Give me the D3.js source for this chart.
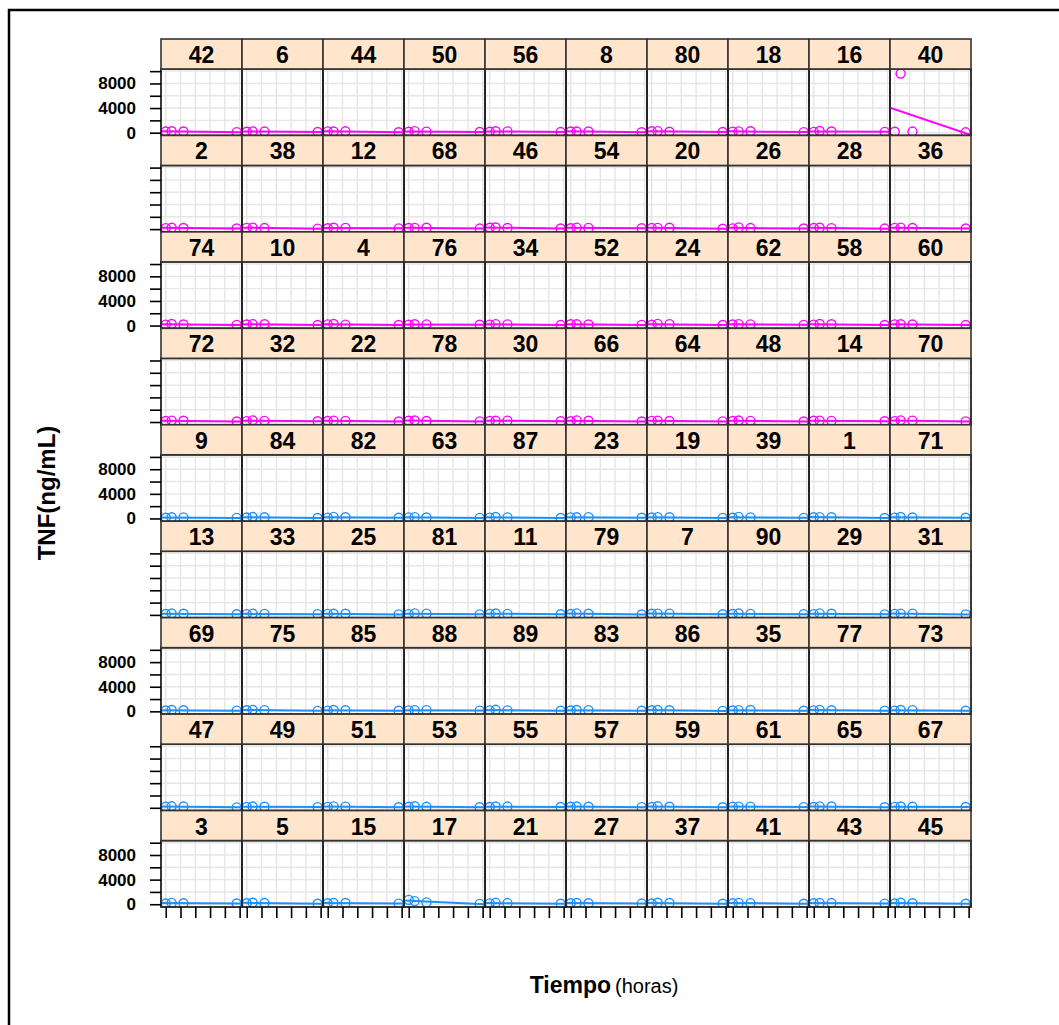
<!DOCTYPE html>
<html>
<head>
  <meta http-equiv="content-type" content="text/html; charset=utf-8">
  <title>TNF por paciente</title>
  <style>
    body { margin: 0; background: #fff; }
    svg { display: block; font-family: "Liberation Sans", Arial, sans-serif; }
    .strip_label { font-size: 23px; font-weight: bold; text-anchor: middle; dominant-baseline: central; }
    .axis text { font-size: 17px; font-weight: bold; fill: #000; }
    .axis line { stroke: #000; stroke-width: 1.6; }
    .grid line { stroke: #e6e6e6; stroke-width: 1.4; }
  </style>
</head>
<body>
  <svg id="canvas"></svg>
  <script src="https://cdnjs.cloudflare.com/ajax/libs/d3/7.8.5/d3.min.js"></script>
  <script>

    // pacientes, en el orden de los paneles (fila por fila)
    const ids_grupo_a = [42, 6, 44, 50, 56, 8, 80, 18, 16, 40,
      2, 38, 12, 68, 46, 54, 20, 26, 28, 36,
      74, 10, 4, 76, 34, 52, 24, 62, 58, 60,
      72, 32, 22, 78, 30, 66, 64, 48, 14, 70];
    const ids_grupo_b = [9, 84, 82, 63, 87, 23, 19, 39, 1, 71,
      13, 33, 25, 81, 11, 79, 7, 90, 29, 31,
      69, 75, 85, 88, 89, 83, 86, 35, 77, 73,
      47, 49, 51, 53, 55, 57, 59, 61, 65, 67,
      3, 5, 15, 17, 21, 27, 37, 41, 43, 45];

    const tiempos = [0, 2, 6, 24];

    // TNF (ng/mL) en cada tiempo, mismo orden que los paneles
    const tnf_0h = [180, 150, 210, 160, 140, 190, 220, 170, 130, 150,
      160, 200, 140, 180, 230, 150, 170, 120, 190, 210,
      150, 170, 200, 130, 160, 220, 140, 180, 150, 190,
      170, 140, 160, 210, 180, 130, 190, 160, 200, 150,
      120, 160, 140, 180, 130, 170, 150, 110, 190, 140,
      150, 130, 170, 120, 160, 140, 180, 150, 130, 170,
      140, 180, 120, 160, 150, 130, 170, 140, 160, 120,
      160, 120, 150, 170, 130, 180, 140, 160, 120, 150,
      130, 170, 150, 700, 140, 160, 120, 150, 170, 130];
    const tnf_2h = [240, 210, 190, 260, 230, 200, 250, 210, 270, 9600,
      220, 250, 230, 200, 260, 240, 210, 280, 230, 250,
      260, 230, 250, 220, 240, 210, 270, 230, 260, 220,
      230, 270, 220, 250, 210, 260, 230, 240, 220, 270,
      200, 230, 250, 210, 240, 190, 220, 260, 210, 230,
      230, 210, 190, 240, 220, 250, 200, 230, 240, 210,
      210, 240, 220, 190, 250, 230, 210, 200, 240, 220,
      240, 200, 230, 250, 210, 220, 240, 190, 230, 210,
      220, 250, 200, 500, 230, 210, 250, 220, 200, 240];
    const tnf_6h = [200, 180, 220, 170, 210, 190, 160, 230, 200, 180,
      190, 170, 210, 230, 180, 200, 220, 170, 160, 190,
      180, 210, 160, 200, 190, 170, 230, 200, 210, 180,
      210, 190, 180, 170, 220, 200, 160, 190, 180, 220,
      170, 190, 200, 160, 180, 210, 190, 170, 200, 160,
      190, 160, 180, 200, 170, 190, 210, 160, 180, 200,
      180, 200, 170, 190, 160, 200, 180, 210, 170, 190,
      200, 170, 190, 160, 200, 180, 170, 190, 210, 160,
      170, 190, 210, 300, 190, 170, 200, 180, 190, 170];
    const tnf_24h = [90, 110, 80, 120, 100, 70, 110, 90, 130, 60,
      100, 80, 120, 90, 110, 130, 70, 100, 90, 110,
      110, 90, 100, 130, 80, 110, 90, 120, 100, 80,
      80, 120, 90, 100, 130, 90, 110, 80, 120, 100,
      90, 70, 110, 100, 80, 120, 90, 100, 70, 110,
      100, 120, 80, 90, 110, 70, 100, 120, 90, 80,
      110, 80, 100, 120, 90, 100, 80, 90, 110, 100,
      70, 110, 90, 80, 120, 100, 90, 110, 80, 120,
      120, 90, 100, 60, 80, 110, 90, 70, 100, 90];

    const y_ticks = [0, 2000, 4000, 6000, 8000, 10000];
    const y_labels = [0, 4000, 8000];
    const x_ticks = [0, 5, 10, 15, 20, 25];

    const colores = { a: "#ff00ff", b: "#1e90ff" };

    const n_cols = 10, n_rows = 9;
    const dims = { width: 1059, height: 1025, left: 161, right: 971, top: 39, bottom: 907, strip: 30, tick: 11 };

    const panels = ids_grupo_a.map(id => ({ id, grupo: "a" }))
      .concat(ids_grupo_b.map(id => ({ id, grupo: "b" })));
    panels.forEach((p, i) => {
      p.col = i % n_cols;
      p.row = Math.floor(i / n_cols);
      p.values = tiempos.map((t, k) => ({ t, v: [tnf_0h, tnf_2h, tnf_6h, tnf_24h][k][i] }));
      // recta de regresion
      const mt = d3.mean(p.values, d => d.t), mv = d3.mean(p.values, d => d.v);
      const sxy = d3.sum(p.values, d => (d.t - mt) * (d.v - mv));
      const sxx = d3.sum(p.values, d => (d.t - mt) * (d.t - mt));
      p.slope = sxy / sxx;
      p.intercept = mv - p.slope * mt;
    });

    const col_scale = d3.scaleBand().domain(d3.range(n_cols)).range([dims.left, dims.right]);
    const row_scale = d3.scaleBand().domain(d3.range(n_rows)).range([dims.top, dims.bottom]);
    const pw = col_scale.bandwidth();
    const ph = row_scale.bandwidth() - dims.strip;

    const x = d3.scaleLinear().domain([-1.6, 25.8]).range([0, pw]);
    const y = d3.scaleLinear().domain([-450, 10350]).range([ph, 0]);

    const svg = d3.select("svg#canvas")
      .attr("width", dims.width)
      .attr("height", dims.height);

    svg.append("rect")
      .attr("x", 9).attr("y", 10)
      .attr("width", 1200).attr("height", 1200)
      .attr("fill", "none").attr("stroke", "#000").attr("stroke-width", 2.5);

    const defs = svg.append("defs");
    defs.append("clipPath").attr("id", "clip_panel")
      .append("rect").attr("width", pw).attr("height", ph);

    const panel = svg.selectAll(".panel")
      .data(panels)
      .enter().append("g")
      .attr("class", "panel")
      .attr("transform", p => "translate(" + col_scale(p.col) + "," + (row_scale(p.row) + dims.strip) + ")");

    // rejilla
    const grid = panel.append("g").attr("class", "grid");
    grid.selectAll(".gv").data(x_ticks).enter().append("line")
      .attr("x1", d => x(d)).attr("x2", d => x(d))
      .attr("y1", 0).attr("y2", ph);
    grid.selectAll(".gh").data(y_ticks).enter().append("line")
      .attr("x1", 0).attr("x2", pw)
      .attr("y1", d => y(d)).attr("y2", d => y(d));

    const inner = panel.append("g").attr("clip-path", "url(#clip_panel)");

    inner.append("line")
      .attr("x1", 0).attr("x2", pw)
      .attr("y1", p => y(p.intercept + p.slope * x.invert(0)))
      .attr("y2", p => y(p.intercept + p.slope * x.invert(pw)))
      .attr("stroke", p => colores[p.grupo])
      .attr("stroke-width", 2);

    inner.selectAll("circle")
      .data(p => p.values.map(v => Object.assign({ grupo: p.grupo }, v)))
      .enter().append("circle")
      .attr("cx", d => x(d.t))
      .attr("cy", d => y(d.v))
      .attr("r", 4.5)
      .attr("fill", "none")
      .attr("stroke", d => colores[d.grupo])
      .attr("stroke-width", 1.4);

    panel.append("rect")
      .attr("width", pw).attr("height", ph)
      .attr("fill", "none").attr("stroke", "#222").attr("stroke-width", 1.8);

    // tiras con el numero de paciente
    panel.append("rect")
      .attr("y", -dims.strip)
      .attr("width", pw).attr("height", dims.strip)
      .attr("fill", "#ffe5cc").attr("stroke", "#333").attr("stroke-width", 1.6);

    panel.append("text")
      .attr("class", "strip_label")
      .attr("x", pw / 2).attr("y", -dims.strip / 2 + 1)
      .text(p => p.id);

    // ejes
    panel.filter(p => p.col == 0).append("g")
      .attr("class", "axis")
      .each(function (p) {
        const axis = d3.axisLeft(y).tickValues(y_ticks).tickSize(dims.tick).tickPadding(14)
          .tickFormat(d => (p.row % 2 == 0 && y_labels.includes(d)) ? d : "");
        d3.select(this).call(axis);
      })
      .call(g => g.select(".domain").remove());

    panel.filter(p => p.row == n_rows - 1).append("g")
      .attr("class", "axis")
      .attr("transform", "translate(0," + ph + ")")
      .call(d3.axisBottom(x).tickValues(x_ticks).tickSize(dims.tick).tickFormat(""))
      .call(g => g.select(".domain").remove());

    svg.append("text")
      .attr("transform", "translate(55,493)rotate(-90)")
      .attr("text-anchor", "middle")
      .attr("font-size", 24).attr("font-weight", "bold")
      .text("TNF(ng/mL)");

    const xlab = svg.append("text")
      .attr("x", 604).attr("y", 993)
      .attr("text-anchor", "middle");
    xlab.append("tspan").attr("font-size", 23).attr("font-weight", "bold").text("Tiempo");
    xlab.append("tspan").attr("font-size", 20).attr("dx", 4).text("(horas)");

  </script>
</body>
</html>
